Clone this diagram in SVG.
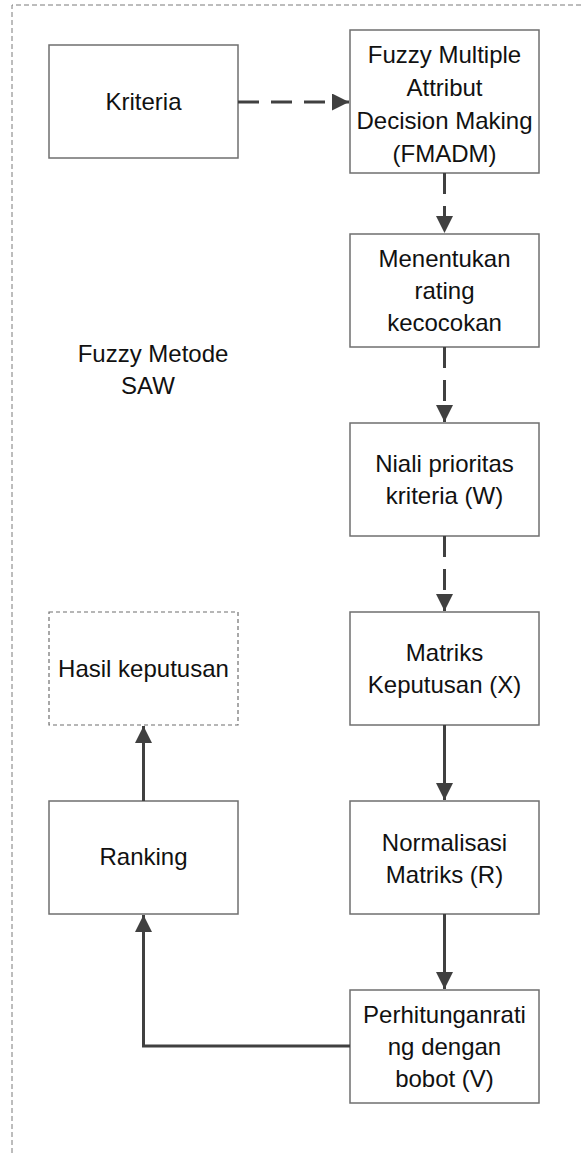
<svg xmlns="http://www.w3.org/2000/svg" width="581" height="1153" viewBox="0 0 581 1153">
<style>
  .box { fill: #ffffff; stroke: #6f6f6f; stroke-width: 1.5; }
  .dbox { fill: #ffffff; stroke: #6f6f6f; stroke-width: 1.2; stroke-dasharray: 4 3; }
  .lbl { font-family: "Liberation Sans", Arial, sans-serif; font-size: 24px; fill: #111111; text-anchor: middle; }
  .conn { fill: none; stroke: #404040; stroke-width: 3; }
  .dash { stroke-dasharray: 21 12; }
  .frame { fill: none; stroke: #7a7a7a; stroke-width: 1; stroke-dasharray: 5 3; }
</style>
<defs>
  <marker id="arr" markerUnits="userSpaceOnUse" markerWidth="17" markerHeight="17" viewBox="0 0 17 17" refX="17" refY="8.5" orient="auto">
    <path d="M0,0 L17,8.5 L0,17 Z" fill="#404040"/>
  </marker>
</defs>
<rect width="581" height="1153" fill="#ffffff"/>
<g id="frame">
  <path class="frame" d="M12,1153 L12,5 L581,5"/>
</g>
<g id="label-saw">
  <text class="lbl" x="153" y="362">Fuzzy Metode</text>
  <text class="lbl" x="148" y="394">SAW</text>
</g>
<g id="kriteria">
  <rect class="box" x="49" y="45" width="189" height="113"/>
  <text class="lbl" x="143.5" y="110">Kriteria</text>
</g>
<g id="fmadm">
  <rect class="box" x="350" y="30" width="189" height="143"/>
  <text class="lbl" x="444.5" y="63">Fuzzy Multiple</text>
  <text class="lbl" x="444.5" y="96">Attribut</text>
  <text class="lbl" x="444.5" y="129">Decision Making</text>
  <text class="lbl" x="444.5" y="162">(FMADM)</text>
</g>
<g id="menentukan">
  <rect class="box" x="350" y="234" width="189" height="113"/>
  <text class="lbl" x="444.5" y="267">Menentukan</text>
  <text class="lbl" x="444.5" y="299">rating</text>
  <text class="lbl" x="444.5" y="331">kecocokan</text>
</g>
<g id="niali">
  <rect class="box" x="350" y="423" width="189" height="113"/>
  <text class="lbl" x="444.5" y="472">Niali prioritas</text>
  <text class="lbl" x="444.5" y="504">kriteria (W)</text>
</g>
<g id="matriks">
  <rect class="box" x="350" y="612" width="189" height="113"/>
  <text class="lbl" x="444.5" y="661">Matriks</text>
  <text class="lbl" x="444.5" y="693">Keputusan (X)</text>
</g>
<g id="normalisasi">
  <rect class="box" x="350" y="801" width="189" height="113"/>
  <text class="lbl" x="444.5" y="851">Normalisasi</text>
  <text class="lbl" x="444.5" y="883">Matriks (R)</text>
</g>
<g id="perhitungan">
  <rect class="box" x="350" y="990" width="189" height="113"/>
  <text class="lbl" x="444.5" y="1023">Perhitunganrati</text>
  <text class="lbl" x="444.5" y="1055">ng dengan</text>
  <text class="lbl" x="444.5" y="1087">bobot (V)</text>
</g>
<g id="ranking">
  <rect class="box" x="49" y="801" width="189" height="113"/>
  <text class="lbl" x="143.5" y="865">Ranking</text>
</g>
<g id="hasil">
  <rect class="dbox" x="49" y="612" width="189" height="113"/>
  <text class="lbl" x="143.5" y="677">Hasil keputusan</text>
</g>
<g id="connectors">
  <path class="conn dash" d="M238,102 L349,102" marker-end="url(#arr)"/>
  <path class="conn dash" d="M444.5,173 L444.5,233" marker-end="url(#arr)"/>
  <path class="conn dash" d="M444.5,347 L444.5,422" marker-end="url(#arr)"/>
  <path class="conn dash" d="M444.5,536 L444.5,611" marker-end="url(#arr)"/>
  <path class="conn" d="M444.5,725 L444.5,800" marker-end="url(#arr)"/>
  <path class="conn" d="M444.5,914 L444.5,989" marker-end="url(#arr)"/>
  <path class="conn" d="M350,1046 L143.5,1046 L143.5,915" marker-end="url(#arr)"/>
  <path class="conn" d="M143.5,801 L143.5,726" marker-end="url(#arr)"/>
</g>
</svg>
